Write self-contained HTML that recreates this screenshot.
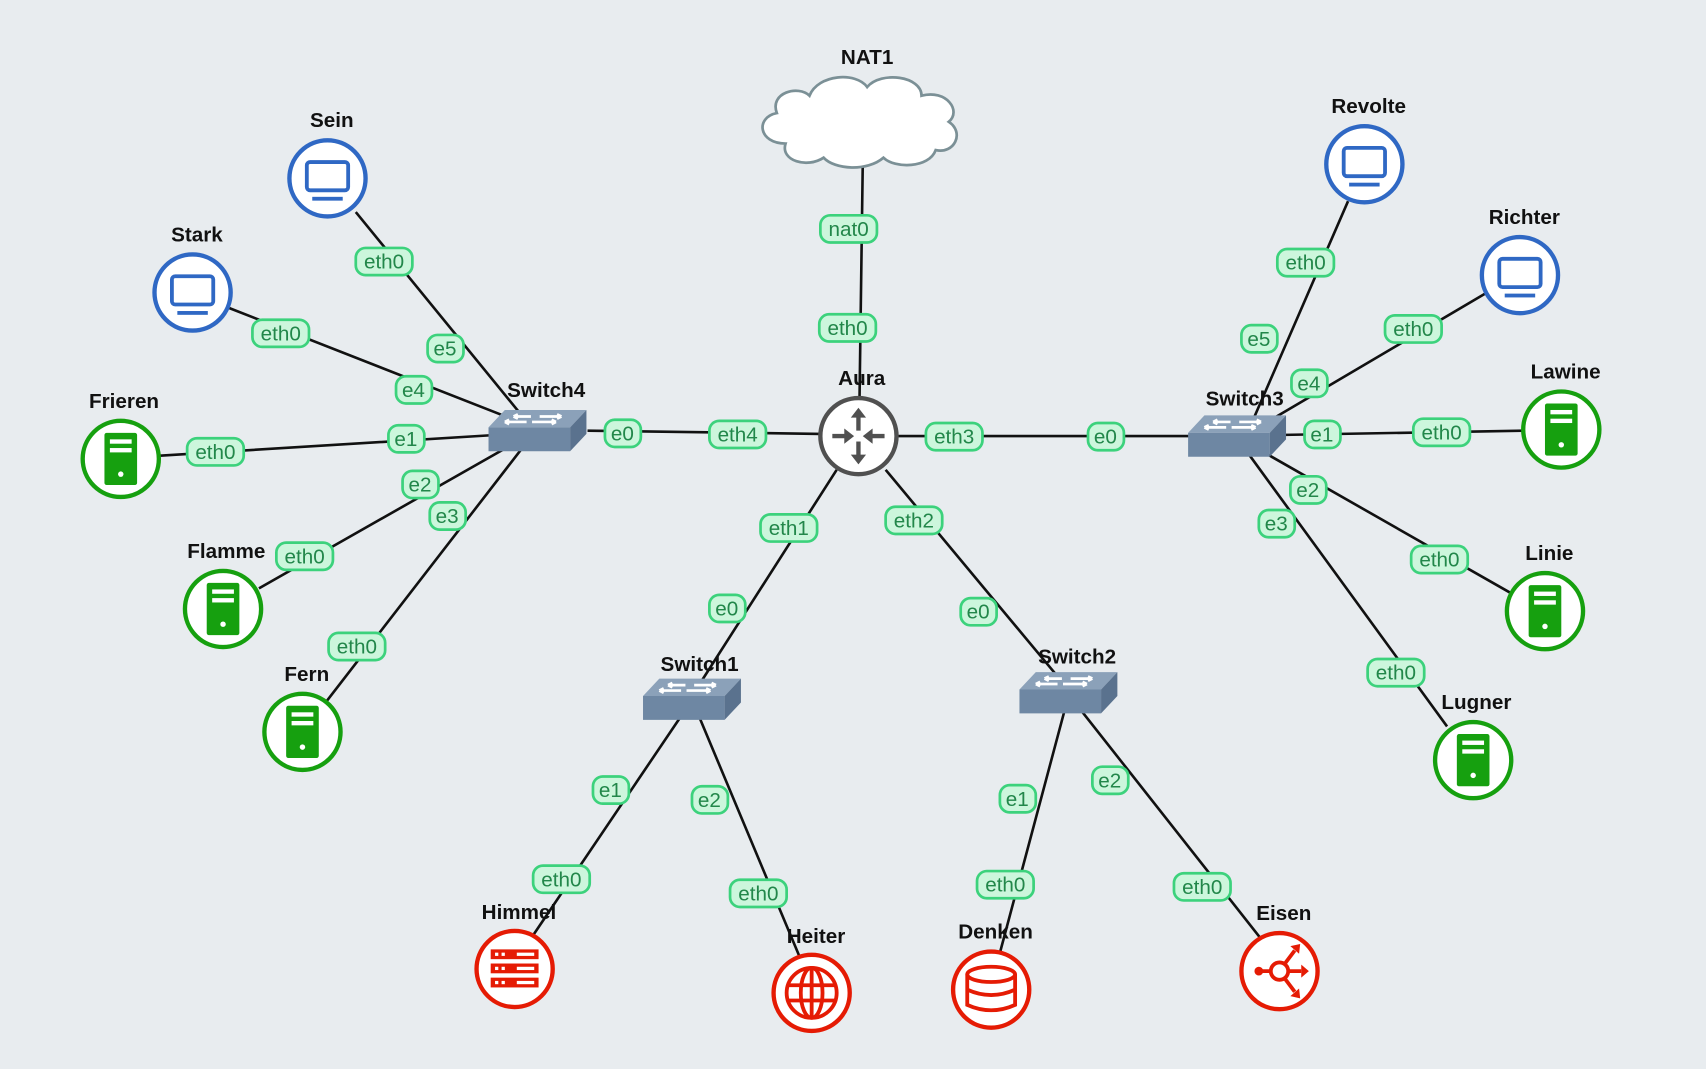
<!DOCTYPE html>
<html><head><meta charset="utf-8"><style>
html,body{margin:0;padding:0;background:#e8ecef;}
svg{display:block}
.l{stroke:#111;stroke-width:2.4;fill:none}
.pr{fill:#ccf6dc;stroke:#3cd27c;stroke-width:2.5}
.pt{font-family:"Liberation Sans",sans-serif;font-size:19px;fill:#22874a;text-anchor:middle;dominant-baseline:central}
.nl{font-family:"Liberation Sans",sans-serif;font-size:19px;font-weight:bold;fill:#111;text-anchor:middle}
.cb{fill:#fff;stroke:#2f68c4;stroke-width:4}
.cg{fill:#fff;stroke:#16a00f;stroke-width:4}
.cr{fill:#fff;stroke:#e51b04;stroke-width:4}
</style></head><body>
<svg width="1706" height="1069" viewBox="0 0 1568 983" preserveAspectRatio="none" xmlns="http://www.w3.org/2000/svg">
<defs>
<g id="pc"><circle class="cb" r="35"/><rect x="-19" y="-15" width="38" height="26" rx="3" fill="none" stroke="#2f68c4" stroke-width="3.5"/><rect x="-14" y="17" width="28" height="3.5" fill="#2f68c4"/></g>
<g id="srv"><circle class="cg" r="35"/><rect x="-15" y="-24" width="30" height="48" rx="2" fill="#16a00f"/><rect x="-10" y="-18" width="20" height="4" fill="#fff"/><rect x="-10" y="-10" width="20" height="4" fill="#fff"/><circle cx="0" cy="14" r="2.5" fill="#fff"/></g>
<g id="sw">
<polygon points="-45,-5 -30,-21 45,-21 30,-5" fill="#8ba1b9"/>
<polygon points="-45,-5 30,-5 30,17 -45,17" fill="#6e87a3"/>
<polygon points="30,-5 45,-21 45,1 30,17" fill="#5a728e"/>
<path d="M-22,-15 h16 M-22,-15 l4,-2 M-22,-15 l4,2 M2,-15 h20 M22,-15 l-4,-2 M22,-15 l-4,2 M-30,-10 h20 M-30,-10 l4,-2 M-30,-10 l4,2 M-5,-10 h22 M17,-10 l-4,-2 M17,-10 l-4,2" stroke="#fff" stroke-width="2.5" fill="none"/>
</g>
</defs>
<rect width="1568" height="983" fill="#e8ecef"/>

<path class="l" d="M793,148 L790,366 M754,399 L540,396 M824,401 L1095,401 M769,432 L636,640 M814,432 L982,634
M327,195 L482,385 M210,283 L470,385 M147,419 L455,400 M238,541 L465,412 M300,645 L480,412
M1239,185 L1150,390 M1365,270 L1170,385 M1400,396 L1175,400 M1388,545 L1160,415 M1330,668 L1148,418
M490,860 L625,660 M735,880 L643,660 M918,880 L978,655 M1158,862 L995,655"/>

<g transform="translate(792,110)">
<path d="M-70,22 C-95,22 -98,-2 -78,-6 C-85,-25 -58,-32 -48,-22 C-40,-42 -5,-44 5,-30 C18,-45 55,-40 55,-22 C78,-28 92,-8 80,2 C95,12 85,32 68,28 C62,45 30,45 20,35 C5,48 -25,46 -35,35 C-50,45 -75,38 -70,22 Z" fill="#fff" stroke="#7b9096" stroke-width="2.5"/>
</g>
<text class="nl" x="797" y="59">NAT1</text>

<circle cx="789" cy="401" r="35" fill="#fff" stroke="#505050" stroke-width="4"/>
<g fill="#505050" stroke="#505050" stroke-width="4">
<path d="M789,396 V380" /><polygon points="782,384 789,375 796,384" stroke="none"/>
<path d="M789,406 V422" /><polygon points="782,418 789,427 796,418" stroke="none"/>
<path d="M765,401 H780" /><polygon points="776,394 785,401 776,408" stroke="none"/>
<path d="M813,401 H798" /><polygon points="802,394 793,401 802,408" stroke="none"/>
</g>
<text class="nl" x="792" y="354">Aura</text>

<use href="#sw" x="494" y="398"/><text class="nl" x="502" y="365">Switch4</text>
<use href="#sw" x="1137" y="403"/><text class="nl" x="1144" y="373">Switch3</text>
<use href="#sw" x="636" y="645"/><text class="nl" x="643" y="617">Switch1</text>
<use href="#sw" x="982" y="639"/><text class="nl" x="990" y="610">Switch2</text>

<use href="#pc" x="301" y="164"/><text class="nl" x="305" y="117">Sein</text>
<use href="#pc" x="177" y="269"/><text class="nl" x="181" y="222">Stark</text>
<use href="#pc" x="1254" y="151"/><text class="nl" x="1258" y="104">Revolte</text>
<use href="#pc" x="1397" y="253"/><text class="nl" x="1401" y="206">Richter</text>

<use href="#srv" x="111" y="422"/><text class="nl" x="114" y="375">Frieren</text>
<use href="#srv" x="205" y="560"/><text class="nl" x="208" y="513">Flamme</text>
<use href="#srv" x="278" y="673"/><text class="nl" x="282" y="626">Fern</text>
<use href="#srv" x="1435" y="395"/><text class="nl" x="1439" y="348">Lawine</text>
<use href="#srv" x="1420" y="562"/><text class="nl" x="1424" y="515">Linie</text>
<use href="#srv" x="1354" y="699"/><text class="nl" x="1357" y="652">Lugner</text>

<circle class="cr" cx="473" cy="891" r="35"/>
<g fill="#e51b04"><rect x="451" y="873" width="44" height="9"/><rect x="451" y="886" width="44" height="9"/><rect x="451" y="899" width="44" height="9"/></g>
<g fill="#fff"><rect x="455" y="876" width="3" height="3"/><rect x="461" y="876" width="3" height="3"/><rect x="475" y="876" width="16" height="3"/><rect x="455" y="889" width="3" height="3"/><rect x="461" y="889" width="3" height="3"/><rect x="475" y="889" width="16" height="3"/><rect x="455" y="902" width="3" height="3"/><rect x="461" y="902" width="3" height="3"/><rect x="475" y="902" width="16" height="3"/></g>
<text class="nl" x="477" y="845">Himmel</text>

<circle class="cr" cx="746" cy="913" r="35"/>
<g fill="none" stroke="#e51b04" stroke-width="3.5"><circle cx="746" cy="913" r="23"/><ellipse cx="746" cy="913" rx="10" ry="23"/><path d="M746,890 V936 M724,906 H768 M724,920 H768"/></g>
<text class="nl" x="750" y="867">Heiter</text>

<circle class="cr" cx="911" cy="910" r="35"/>
<g fill="none" stroke="#e51b04" stroke-width="3.5"><ellipse cx="911" cy="896" rx="22" ry="7"/><path d="M889,896 V924 Q911,934 933,924 V896 M889,910 Q911,920 933,910"/></g>
<text class="nl" x="915" y="863">Denken</text>

<circle class="cr" cx="1176" cy="893" r="35"/>
<g stroke="#e51b04" stroke-width="3.5" fill="none"><circle cx="1176" cy="893" r="8"/><path d="M1158,893 H1168 M1184,893 H1196 M1181,886 L1190,874 M1181,900 L1190,912"/></g>
<g fill="#e51b04"><circle cx="1157" cy="893" r="4"/><polygon points="1196,887 1203,893 1196,899"/><polygon points="1186,870 1195,868 1194,877"/><polygon points="1186,916 1195,918 1194,909"/></g>
<text class="nl" x="1180" y="846">Eisen</text>

<g>
<rect class="pr" x="754" y="198" width="52" height="25" rx="9"/><text class="pt" x="780" y="211">nat0</text>
<rect class="pr" x="753" y="289" width="52" height="25" rx="9"/><text class="pt" x="779" y="302">eth0</text>
<rect class="pr" x="652" y="387" width="52" height="25" rx="9"/><text class="pt" x="678" y="400">eth4</text>
<rect class="pr" x="556" y="386" width="33" height="25" rx="9"/><text class="pt" x="572" y="399">e0</text>
<rect class="pr" x="851" y="389" width="52" height="25" rx="9"/><text class="pt" x="877" y="402">eth3</text>
<rect class="pr" x="1000" y="389" width="33" height="25" rx="9"/><text class="pt" x="1016" y="402">e0</text>
<rect class="pr" x="699" y="473" width="52" height="25" rx="9"/><text class="pt" x="725" y="486">eth1</text>
<rect class="pr" x="652" y="547" width="33" height="25" rx="9"/><text class="pt" x="668" y="560">e0</text>
<rect class="pr" x="814" y="466" width="52" height="25" rx="9"/><text class="pt" x="840" y="479">eth2</text>
<rect class="pr" x="883" y="550" width="33" height="25" rx="9"/><text class="pt" x="899" y="563">e0</text>

<rect class="pr" x="327" y="228" width="52" height="25" rx="9"/><text class="pt" x="353" y="241">eth0</text>
<rect class="pr" x="393" y="308" width="33" height="25" rx="9"/><text class="pt" x="409" y="321">e5</text>
<rect class="pr" x="232" y="294" width="52" height="25" rx="9"/><text class="pt" x="258" y="307">eth0</text>
<rect class="pr" x="364" y="346" width="33" height="25" rx="9"/><text class="pt" x="380" y="359">e4</text>
<rect class="pr" x="172" y="403" width="52" height="25" rx="9"/><text class="pt" x="198" y="416">eth0</text>
<rect class="pr" x="357" y="391" width="33" height="25" rx="9"/><text class="pt" x="373" y="404">e1</text>
<rect class="pr" x="254" y="499" width="52" height="25" rx="9"/><text class="pt" x="280" y="512">eth0</text>
<rect class="pr" x="370" y="433" width="33" height="25" rx="9"/><text class="pt" x="386" y="446">e2</text>
<rect class="pr" x="302" y="582" width="52" height="25" rx="9"/><text class="pt" x="328" y="595">eth0</text>
<rect class="pr" x="395" y="462" width="33" height="25" rx="9"/><text class="pt" x="411" y="475">e3</text>

<rect class="pr" x="1174" y="229" width="52" height="25" rx="9"/><text class="pt" x="1200" y="242">eth0</text>
<rect class="pr" x="1141" y="299" width="33" height="25" rx="9"/><text class="pt" x="1157" y="312">e5</text>
<rect class="pr" x="1273" y="290" width="52" height="25" rx="9"/><text class="pt" x="1299" y="303">eth0</text>
<rect class="pr" x="1187" y="340" width="33" height="25" rx="9"/><text class="pt" x="1203" y="353">e4</text>
<rect class="pr" x="1299" y="385" width="52" height="25" rx="9"/><text class="pt" x="1325" y="398">eth0</text>
<rect class="pr" x="1199" y="387" width="33" height="25" rx="9"/><text class="pt" x="1215" y="400">e1</text>
<rect class="pr" x="1297" y="502" width="52" height="25" rx="9"/><text class="pt" x="1323" y="515">eth0</text>
<rect class="pr" x="1186" y="438" width="33" height="25" rx="9"/><text class="pt" x="1202" y="451">e2</text>
<rect class="pr" x="1257" y="606" width="52" height="25" rx="9"/><text class="pt" x="1283" y="619">eth0</text>
<rect class="pr" x="1157" y="469" width="33" height="25" rx="9"/><text class="pt" x="1173" y="482">e3</text>

<rect class="pr" x="490" y="796" width="52" height="25" rx="9"/><text class="pt" x="516" y="809">eth0</text>
<rect class="pr" x="545" y="714" width="33" height="25" rx="9"/><text class="pt" x="561" y="727">e1</text>
<rect class="pr" x="671" y="809" width="52" height="25" rx="9"/><text class="pt" x="697" y="822">eth0</text>
<rect class="pr" x="636" y="723" width="33" height="25" rx="9"/><text class="pt" x="652" y="736">e2</text>
<rect class="pr" x="898" y="801" width="52" height="25" rx="9"/><text class="pt" x="924" y="814">eth0</text>
<rect class="pr" x="919" y="722" width="33" height="25" rx="9"/><text class="pt" x="935" y="735">e1</text>
<rect class="pr" x="1079" y="803" width="52" height="25" rx="9"/><text class="pt" x="1105" y="816">eth0</text>
<rect class="pr" x="1004" y="705" width="33" height="25" rx="9"/><text class="pt" x="1020" y="718">e2</text>
</g>
</svg>
</body></html>
